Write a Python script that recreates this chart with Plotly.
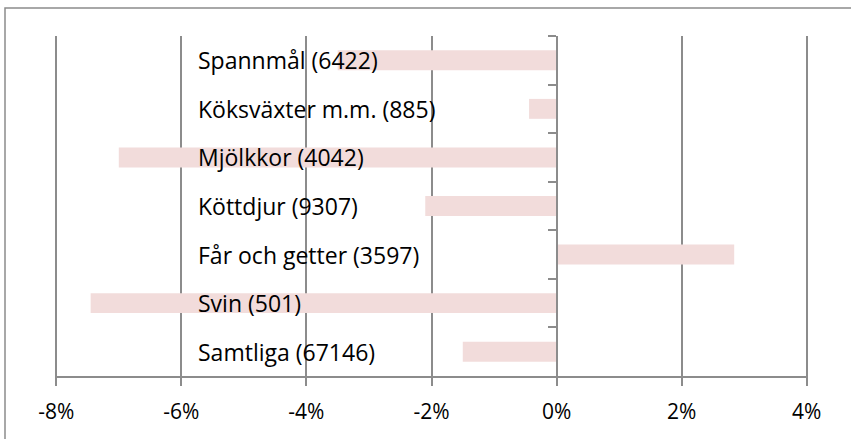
import plotly.graph_objects as go

categories = ["Spannmål (6422)", "Köksväxter m.m. (885)", "Mjölkkor (4042)",
              "Köttdjur (9307)", "Får och getter (3597)", "Svin (501)", "Samtliga (67146)"]
values = [-3.5, -0.44, -7.0, -2.1, 2.84, -7.45, -1.5]
tick_vals = [-8, -6, -4, -2, 0, 2, 4]
tick_text = ["-8%", "-6%", "-4%", "-2%", "0%", "2%", "4%"]

GRID = "#8c8c8c"
FONT = "Open Sans"

fig = go.Figure()
fig.add_trace(go.Bar(
    x=values, y=categories, orientation="h",
    marker=dict(color="#F2DCDB", line=dict(width=0)),
    showlegend=False, hoverinfo="x+y",
))

for c in categories:
    fig.add_annotation(
        x=0.187, xref="paper", y=c, yref="y", text=c, showarrow=False,
        xanchor="left", yanchor="middle",
        font=dict(family=FONT, size=23, color="#000000"),
    )

# outer chart frame
fig.add_shape(type="rect", xref="paper", yref="paper",
              x0=-0.0664, x1=1.3, y0=-0.5, y1=1.082,
              line=dict(color=GRID, width=1.5), layer="below")

fig.update_layout(
    width=851, height=439,
    margin=dict(l=55, r=43, t=36, b=63),
    paper_bgcolor="white", plot_bgcolor="white",
    bargap=0.59,
    font=dict(family=FONT, size=21, color="#000000"),
    xaxis=dict(
        range=[-8.02, 4.02], tickvals=tick_vals, ticktext=tick_text,
        showgrid=True, gridcolor=GRID, gridwidth=1.5,
        zeroline=False, showline=True, linecolor=GRID, linewidth=1.5,
        ticks="outside", ticklen=8, tickcolor=GRID, tickwidth=1.5,
        ticklabelstandoff=8,
        tickfont=dict(family=FONT, size=21, color="#000000"),
        fixedrange=True,
    ),
    yaxis=dict(
        categoryorder="array", categoryarray=categories,
        autorange="reversed",
        anchor="free", position=8.02/12.04, side="left",
        showgrid=False, zeroline=False,
        showline=True, linecolor=GRID, linewidth=1.5,
        ticks="outside", tickson="boundaries", ticklen=8,
        tickcolor=GRID, tickwidth=1.5,
        showticklabels=False, fixedrange=True,
    ),
)

fig.write_html("out.html", config={"displayModeBar": False},
               post_script="document.body.style.margin='0';")
